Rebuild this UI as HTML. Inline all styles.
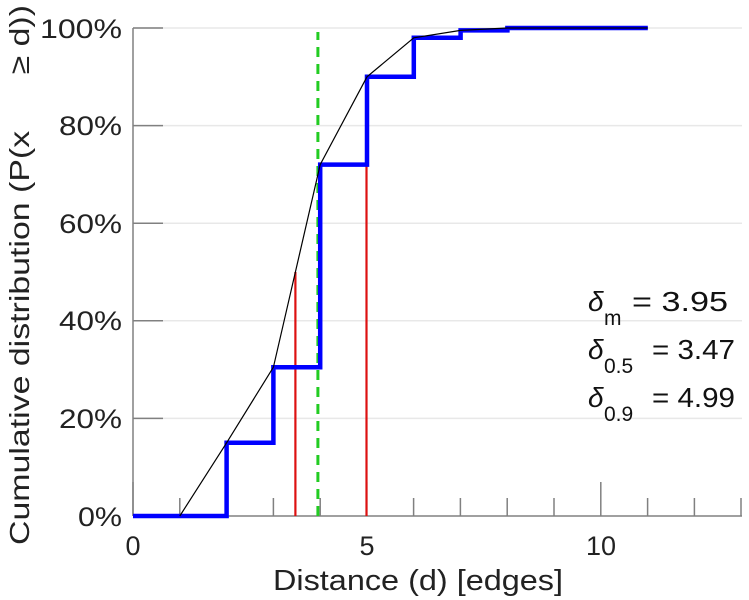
<!DOCTYPE html>
<html><head><meta charset="utf-8"><style>
html,body{margin:0;padding:0;background:#fff;}
svg{display:block;font-family:"Liberation Sans",sans-serif;}
</style></head><body>
<svg width="749" height="600" viewBox="0 0 749 600" xmlns="http://www.w3.org/2000/svg">
<g stroke="#e8e8e8" stroke-width="1.5">
<line x1="133" y1="28" x2="742" y2="28"/>
<line x1="133" y1="125.6" x2="742" y2="125.6"/>
<line x1="133" y1="223.2" x2="742" y2="223.2"/>
<line x1="133" y1="320.8" x2="742" y2="320.8"/>
<line x1="133" y1="418.4" x2="742" y2="418.4"/>
</g>
<g stroke="#808080" stroke-width="1.5">
<line x1="133" y1="28" x2="133" y2="516"/>
<line x1="133" y1="516" x2="742" y2="516"/>
<line x1="133" y1="28" x2="163" y2="28"/>
<line x1="133" y1="125.6" x2="163" y2="125.6"/>
<line x1="133" y1="223.2" x2="163" y2="223.2"/>
<line x1="133" y1="320.8" x2="163" y2="320.8"/>
<line x1="133" y1="418.4" x2="163" y2="418.4"/>
<line x1="133" y1="516" x2="133" y2="482"/>
<line x1="366.8" y1="516" x2="366.8" y2="482"/>
<line x1="600.8" y1="516" x2="600.8" y2="482"/>
<line x1="179.8" y1="516" x2="179.8" y2="498"/>
<line x1="226.6" y1="516" x2="226.6" y2="498"/>
<line x1="273.4" y1="516" x2="273.4" y2="498"/>
<line x1="320.2" y1="516" x2="320.2" y2="498"/>
<line x1="413.6" y1="516" x2="413.6" y2="498"/>
<line x1="460.4" y1="516" x2="460.4" y2="498"/>
<line x1="507.2" y1="516" x2="507.2" y2="498"/>
<line x1="554" y1="516" x2="554" y2="498"/>
<line x1="647.6" y1="516" x2="647.6" y2="498"/>
<line x1="694.4" y1="516" x2="694.4" y2="498"/>
<line x1="741" y1="516" x2="741" y2="498"/>
</g>
<line x1="317.9" y1="516" x2="317.9" y2="32" stroke="#22cc22" stroke-width="3" stroke-dasharray="10,7"/>
<line x1="295.4" y1="516" x2="295.4" y2="272" stroke="#dd1111" stroke-width="2.2"/>
<line x1="366.5" y1="516" x2="366.5" y2="76.8" stroke="#dd1111" stroke-width="2.2"/>
<polyline fill="none" stroke="#0000ff" stroke-width="4.5" points="133,516 226.6,516 226.6,442.8 273.4,442.8 273.4,367.2 320.2,367.2 320.2,164.6 367,164.6 367,76.8 413.8,76.8 413.8,37.8 460.6,37.8 460.6,30.4 507.4,30.4 507.4,28 647.8,28"/>
<polyline fill="none" stroke="#000" stroke-width="1.2" points="179.8,516 226.6,442.8 273.4,367.2 320.2,164.6 367,76.8 413.8,37.8 460.6,30.4 507.4,28 647.8,28"/>
<g font-size="27" fill="#222" text-anchor="end">
<text x="122" y="38" textLength="82" lengthAdjust="spacingAndGlyphs">100%</text>
<text x="122" y="135" textLength="63" lengthAdjust="spacingAndGlyphs">80%</text>
<text x="122" y="233" textLength="63" lengthAdjust="spacingAndGlyphs">60%</text>
<text x="122" y="330" textLength="63" lengthAdjust="spacingAndGlyphs">40%</text>
<text x="122" y="428" textLength="63" lengthAdjust="spacingAndGlyphs">20%</text>
<text x="122" y="526" textLength="44" lengthAdjust="spacingAndGlyphs">0%</text>
</g>
<g font-size="27" fill="#222" text-anchor="middle">
<text x="133" y="555">0</text>
<text x="367" y="555">5</text>
<text x="601" y="555">10</text>
<text x="418" y="590" font-size="29" textLength="290" lengthAdjust="spacingAndGlyphs">Distance (d) [edges]</text>
</g>
<text transform="translate(29,545) rotate(-90)" font-size="28" fill="#222" xml:space="preserve" textLength="540" lengthAdjust="spacingAndGlyphs">Cumulative distribution (P(x      ≥ d))</text>
<g font-size="28" fill="#111">
<text x="588" y="311" font-style="italic">δ</text><text x="604" y="325" font-size="21">m</text><text x="632" y="311" textLength="96" lengthAdjust="spacingAndGlyphs">= 3.95</text>
<text x="588" y="359" font-style="italic">δ</text><text x="604" y="373" font-size="21">0.5</text><text x="652" y="359" textLength="83" lengthAdjust="spacingAndGlyphs">= 3.47</text>
<text x="588" y="407" font-style="italic">δ</text><text x="604" y="421" font-size="21">0.9</text><text x="652" y="407" textLength="83" lengthAdjust="spacingAndGlyphs">= 4.99</text>
</g>
</svg>
</body></html>
